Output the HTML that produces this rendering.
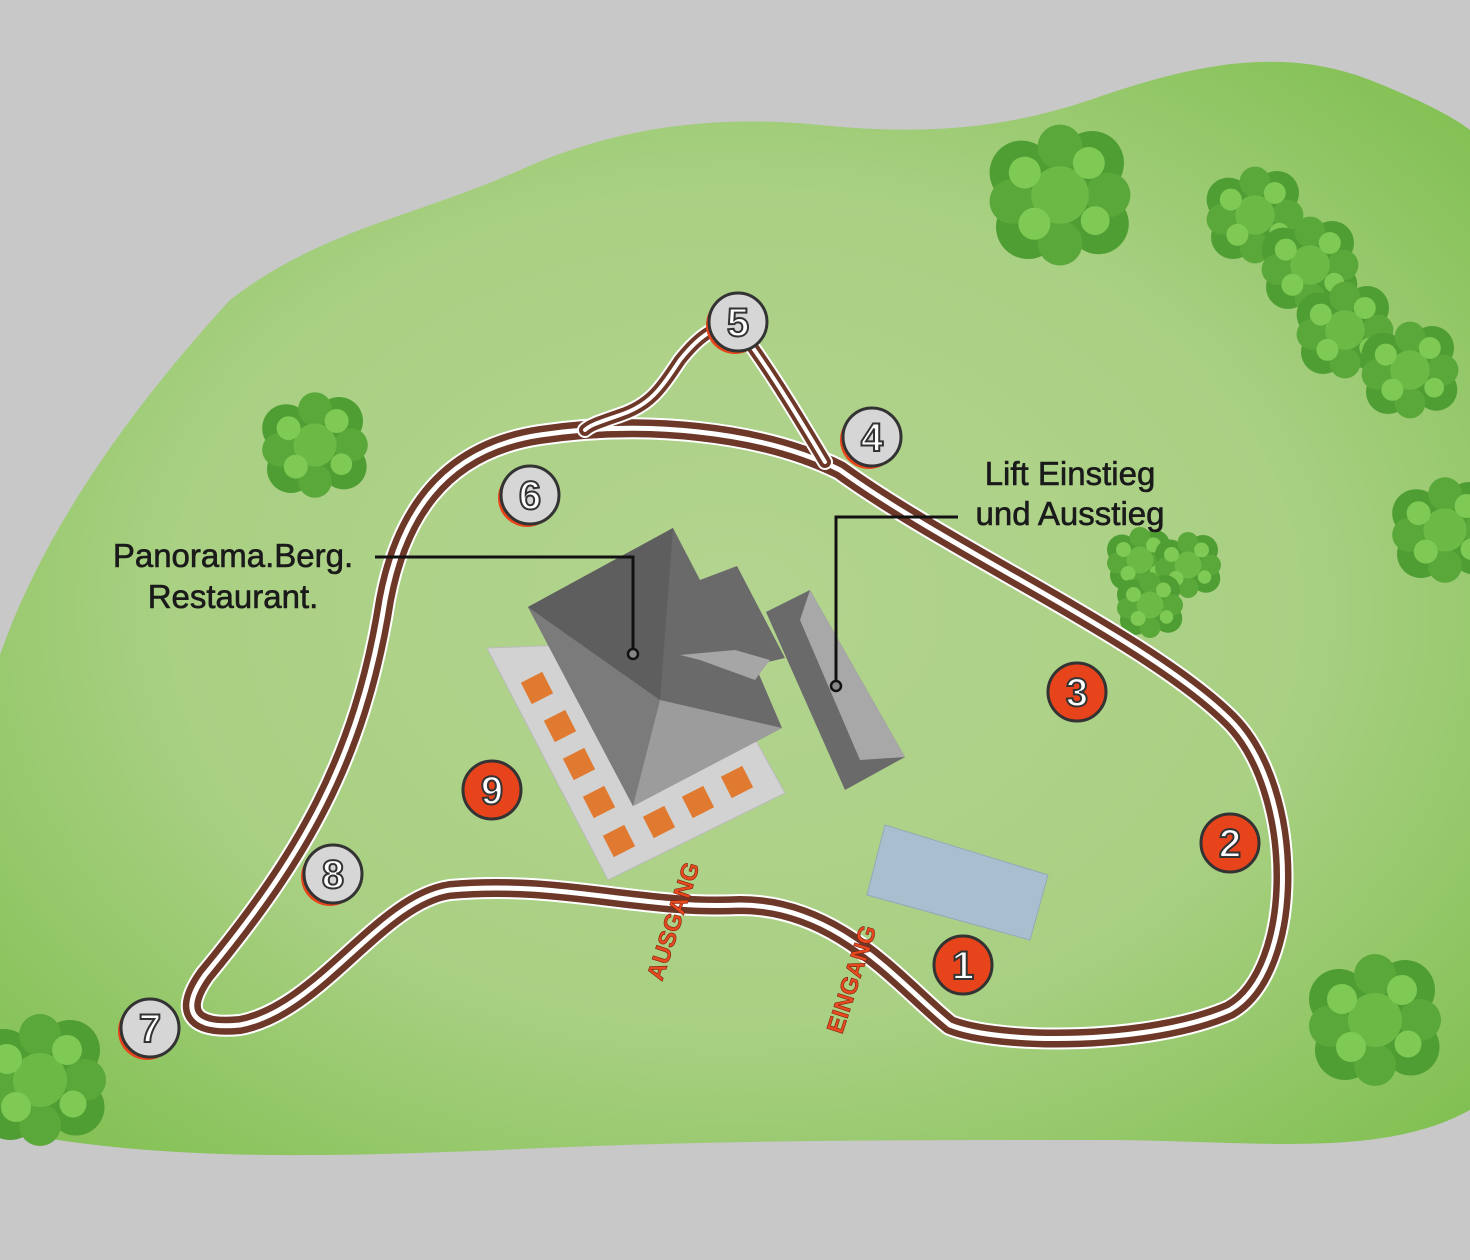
<!DOCTYPE html>
<html><head><meta charset="utf-8"><style>
html,body{margin:0;padding:0;background:#c8c8c8;}
svg{display:block;}
text{font-family:"Liberation Sans",sans-serif;}
</style></head><body>
<svg width="1470" height="1260" viewBox="0 0 1470 1260" xmlns="http://www.w3.org/2000/svg">
<defs>
<radialGradient id="g" cx="0.5" cy="0.5" r="0.7">
<stop offset="0" stop-color="#b3d48f"/><stop offset="0.55" stop-color="#a9d083"/><stop offset="1" stop-color="#7fbf4f"/>
</radialGradient>
<g id="tree">
<circle cx="0" cy="0" r="30" fill="#3f8f2c"/>
<circle cx="-24" cy="-14" r="20" fill="#4f9e34"/><circle cx="20" cy="-20" r="20" fill="#4f9e34"/>
<circle cx="-20" cy="20" r="20" fill="#4f9e34"/><circle cx="24" cy="18" r="19" fill="#4f9e34"/>
<circle cx="0" cy="-30" r="14" fill="#5aa83a"/><circle cx="0" cy="30" r="14" fill="#5aa83a"/>
<circle cx="-30" cy="4" r="14" fill="#5aa83a"/><circle cx="30" cy="0" r="14" fill="#5aa83a"/>
<circle cx="0" cy="0" r="18" fill="#6cb946"/>
<circle cx="-22" cy="-14" r="10" fill="#7fc955"/><circle cx="18" cy="-20" r="10" fill="#7fc955"/><circle cx="-16" cy="18" r="10" fill="#7fc955"/><circle cx="22" cy="16" r="9" fill="#7fc955"/>
</g>
</defs>
<rect width="1470" height="1260" fill="#c8c8c8"/>
<path d="M0,655 C40,540 120,420 230,300 C320,230 420,215 520,170 C620,125 720,115 820,125 C920,135 1000,130 1090,100 C1190,65 1280,45 1370,80 C1420,100 1450,115 1470,130 L1470,1110 C1380,1160 1250,1140 1100,1140 C900,1140 700,1140 500,1150 C300,1158 150,1160 0,1130 Z" fill="url(#g)"/>
<!-- trees -->
<use href="#tree" transform="translate(1060,195) scale(1.6)"/>
<use href="#tree" transform="translate(1255,215) scale(1.1)"/><use href="#tree" transform="translate(1310,265) scale(1.1)"/><use href="#tree" transform="translate(1345,330) scale(1.1)"/><use href="#tree" transform="translate(1410,370) scale(1.1)"/>
<use href="#tree" transform="translate(315,445) scale(1.2)"/>
<use href="#tree" transform="translate(1140,560) scale(0.75)"/><use href="#tree" transform="translate(1188,565) scale(0.75)"/><use href="#tree" transform="translate(1150,605) scale(0.75)"/>
<use href="#tree" transform="translate(1445,530) scale(1.2)"/>
<use href="#tree" transform="translate(1375,1020) scale(1.5)"/>
<use href="#tree" transform="translate(40,1080) scale(1.5)"/>
<!-- track -->
<g fill="none" stroke-linecap="round" stroke-linejoin="round">
<path d="M950,1025 C1000,1045 1150,1045 1230,1010 C1300,970 1300,790 1230,720 C1150,640 950,550 840,470 C760,430 640,420 540,435 C440,450 400,520 385,600 C360,760 300,860 205,975 C180,1010 190,1030 240,1025 C320,1010 380,900 450,890 C560,880 640,910 740,905 C840,905 900,985 950,1025 Z" stroke="#fff" stroke-width="22"/>
<path d="M950,1025 C1000,1045 1150,1045 1230,1010 C1300,970 1300,790 1230,720 C1150,640 950,550 840,470 C760,430 640,420 540,435 C440,450 400,520 385,600 C360,760 300,860 205,975 C180,1010 190,1030 240,1025 C320,1010 380,900 450,890 C560,880 640,910 740,905 C840,905 900,985 950,1025 Z" stroke="#6e3828" stroke-width="18"/>
<path d="M950,1025 C1000,1045 1150,1045 1230,1010 C1300,970 1300,790 1230,720 C1150,640 950,550 840,470 C760,430 640,420 540,435 C440,450 400,520 385,600 C360,760 300,860 205,975 C180,1010 190,1030 240,1025 C320,1010 380,900 450,890 C560,880 640,910 740,905 C840,905 900,985 950,1025 Z" stroke="#fff" stroke-width="5"/>
<path d="M825,462 C800,420 770,370 740,330 C720,320 700,335 680,360 C660,390 650,405 620,415 C600,422 590,425 585,430" stroke="#fff" stroke-width="16"/>
<path d="M825,462 C800,420 770,370 740,330 C720,320 700,335 680,360 C660,390 650,405 620,415 C600,422 590,425 585,430" stroke="#6e3828" stroke-width="12"/>
<path d="M825,462 C800,420 770,370 740,330 C720,320 700,335 680,360 C660,390 650,405 620,415 C600,422 590,425 585,430" stroke="#fff" stroke-width="4"/>
</g>
<!-- buildings -->
<polygon points="487,648 608,880 785,793 700,640" fill="#d2d2d2" stroke="#bbb"/>
<g fill="#e07a30">
<rect x="525" y="676" width="24" height="24" transform="rotate(-27 537 688)"/>
<rect x="548" y="714" width="24" height="24" transform="rotate(-27 560 726)"/>
<rect x="567" y="752" width="24" height="24" transform="rotate(-27 579 764)"/>
<rect x="587" y="790" width="24" height="24" transform="rotate(-27 599 802)"/>
<rect x="607" y="829" width="24" height="24" transform="rotate(-27 619 841)"/>
<rect x="647" y="810" width="24" height="24" transform="rotate(-27 659 822)"/>
<rect x="686" y="790" width="24" height="24" transform="rotate(-27 698 802)"/>
<rect x="725" y="770" width="24" height="24" transform="rotate(-27 737 782)"/>
</g>
<polygon points="528,607 673,528 700,580 737,566 785,658 755,665 782,728 633,806" fill="#6a6a6a"/>
<polygon points="528,607 633,806 660,700" fill="#7b7b7b"/>
<polygon points="633,806 782,728 660,700" fill="#9c9c9c"/>
<polygon points="528,607 673,528 660,700" fill="#5e5e5e"/>
<polygon points="680,655 735,650 770,660 755,680 700,660" fill="#a6a6a6"/>
<polygon points="766,612 810,590 905,757 845,790" fill="#6a6a6a"/>
<polygon points="810,590 905,757 860,760 800,620" fill="#a8a8a8"/>
<polygon points="885,825 1048,875 1030,940 867,895" fill="#a9bfcf" stroke="#93a9b8"/>
<!-- leader lines -->
<g stroke="#111" stroke-width="3" fill="none">
<polyline points="375,557 633,557 633,652"/>
<polyline points="958,517 836,517 836,683"/>
</g>
<circle cx="633" cy="654" r="5" fill="#888" stroke="#111" stroke-width="2.5"/>
<circle cx="836" cy="686" r="5" fill="#888" stroke="#111" stroke-width="2.5"/>
<g font-size="33" fill="#1a1a1a" text-anchor="middle" stroke="#1a1a1a" stroke-width="0.6">
<text x="233" y="567">Panorama.Berg.</text><text x="233" y="608">Restaurant.</text>
<text x="1070" y="485">Lift Einstieg</text><text x="1070" y="525">und Ausstieg</text>
</g>
<g font-size="24" font-weight="bold" fill="#e8491e" stroke="#7a2010" stroke-width="0.6">
<text transform="translate(662,982) rotate(-72)">AUSGANG</text>
<text transform="translate(842,1035) rotate(-72)">EINGANG</text>
</g>
<!-- markers -->
<g font-size="40" font-weight="bold" text-anchor="middle">
<g fill="#e8441c">
<circle cx="735" cy="325" r="29"/><circle cx="869" cy="440" r="29"/><circle cx="527" cy="498" r="29"/>
<circle cx="147" cy="1031" r="29"/><circle cx="330" cy="877" r="29"/>
</g>
<g fill="#d6d6d6" stroke="#333" stroke-width="3">
<circle cx="738" cy="322" r="29"/><circle cx="872" cy="437" r="29"/><circle cx="530" cy="495" r="29"/>
<circle cx="150" cy="1028" r="29"/><circle cx="333" cy="874" r="29"/>
</g>
<g fill="#e8441c" stroke="#333" stroke-width="3">
<circle cx="963" cy="965" r="29"/><circle cx="1230" cy="843" r="29"/><circle cx="1077" cy="692" r="29"/><circle cx="492" cy="790" r="29"/>
</g>
<g fill="#fff" stroke="#333" stroke-width="2">
<text x="738" y="336">5</text><text x="872" y="451">4</text><text x="530" y="509">6</text>
<text x="150" y="1042">7</text><text x="333" y="888">8</text>
<text x="963" y="979">1</text><text x="1230" y="857">2</text><text x="1077" y="706">3</text><text x="492" y="804">9</text>
</g>
</g>
</svg>
</body></html>
